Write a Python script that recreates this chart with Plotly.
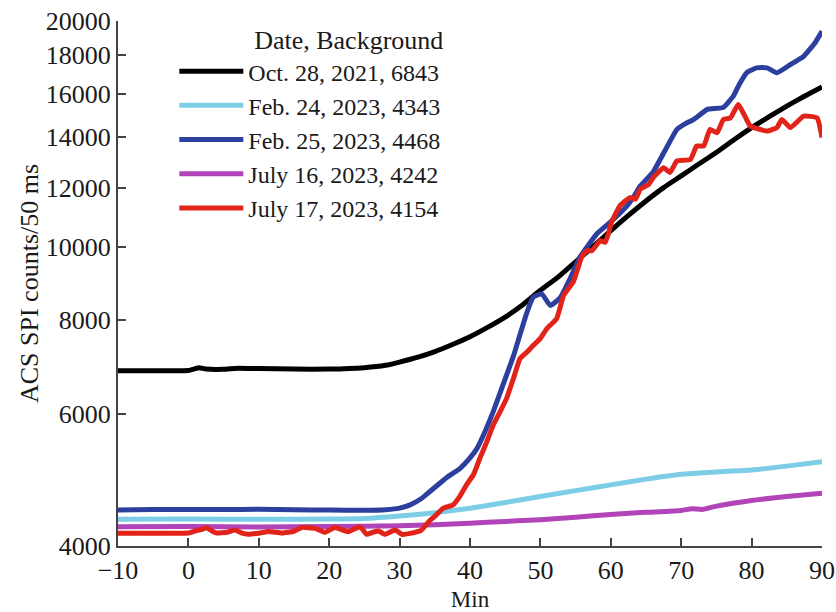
import math
import plotly.graph_objects as go

# ---------------- data ----------------
t_oct28 = [-10, -5, 0, 0.8, 1.5, 2.5, 5, 7, 10, 15, 20, 25, 28, 30, 32.5, 35, 37.5, 40, 42.5,
           45, 47.5, 50, 52.5, 55, 57.5, 60, 62.5, 65, 67.5, 70, 72.5, 75, 77.5, 80, 82.5,
           85, 87.5, 90]
v_oct28 = [6843, 6845, 6850, 6880, 6910, 6880, 6875, 6900, 6890, 6880, 6880, 6910, 6960, 7030,
           7130, 7260, 7420, 7600, 7820, 8070, 8380, 8760, 9120, 9560, 10020, 10520, 11020,
           11520, 12000, 12440, 12900, 13370, 13900, 14420, 14920, 15410, 15880, 16340]

t_feb24 = [-10, 0, 10, 20, 25, 30, 35, 40, 45, 50, 55, 60, 65, 70, 75, 80, 85, 90]
v_feb24 = [4343, 4345, 4342, 4345, 4352, 4385, 4430, 4490, 4570, 4656, 4740, 4824, 4910,
           4984, 5020, 5050, 5110, 5181]

t_feb25 = [-10, -5, 0, 5, 10, 15, 20, 25, 28, 30, 31.5, 33, 34.3, 35.5, 36.7, 38.6, 40, 41,
           42.2, 43.3, 44.8, 46.2, 47.2, 48.1, 49, 50.2, 51.4, 52.8, 54.2, 55.6, 56.6, 58,
           59.9, 62.3, 63.2, 64.2, 66, 67.8, 69.4, 70.6, 71.8, 73.7, 75, 76, 77.4, 78.3,
           79.3, 80.7, 82.2, 83.6, 85.5, 87.4, 89, 90]
v_feb25 = [4468, 4472, 4475, 4472, 4478, 4470, 4466, 4462, 4470, 4492, 4538, 4620, 4727, 4830,
           4934, 5076, 5240, 5396, 5700, 6038, 6600, 7176, 7700, 8195, 8580, 8666, 8361, 8560,
           9072, 9694, 10000, 10412, 10788, 11350, 11650, 12066, 12582, 13500, 14345, 14600,
           14793, 15252, 15300, 15346, 15885, 16500, 17062, 17325, 17325, 17062, 17500, 17950,
           18699, 19374]

t_jul16 = [-10, 0, 10, 20, 30, 35, 40, 45, 50, 55, 60, 65, 70, 71.5, 73, 75, 80, 85, 90]
v_jul16 = [4242, 4245, 4240, 4245, 4255, 4270, 4290, 4312, 4336, 4370, 4407, 4435, 4460,
           4485, 4475, 4520, 4600, 4655, 4704]

t_jul17 = [-10, -5, -1, 0, 1, 2.1, 2.6, 3.3, 4, 5.5, 6.6, 7.5, 8.5, 10, 11.4, 13.3, 15, 16.1,
           18, 19.4, 20.8, 22.7, 24.4, 25.3, 26.2, 27, 27.9, 29.4, 30.3, 31.5, 33.1, 34.3, 35,
           36.2, 37.6, 38.5, 39.5, 40.5, 41.4, 42.3, 43.3, 44.2, 45.2, 46.2, 47.1, 48.1, 49,
           50, 50.9, 52.3, 53.3, 54.7, 55.9, 56.6, 57.3, 58.5, 59.2, 59.7, 60.1, 61.3, 62.7,
           63.5, 64.2, 65.3, 66.1, 67.5, 68.4, 69.4, 71.3, 72.2, 73.2, 74.1, 75.1, 76, 77,
           78.1, 78.8, 79.8, 81.2, 82.2, 83.6, 84.3, 85.5, 87.4, 89.3, 90]
v_jul17 = [4160, 4158, 4160, 4162, 4190, 4214, 4231, 4190, 4162, 4172, 4200, 4165, 4146, 4160,
           4182, 4162, 4185, 4234, 4222, 4171, 4234, 4180, 4242, 4146, 4172, 4188, 4146, 4200,
           4146, 4158, 4200, 4326, 4380, 4492, 4538, 4650, 4824, 4980, 5234, 5480, 5795, 6020,
           6289, 6700, 7105, 7250, 7400, 7560, 7787, 8028, 8622, 9000, 9720, 9892, 9892, 10200,
           10150, 10453, 10788, 11350, 11640, 11585, 11950, 12100, 12400, 12750, 12570, 13024,
           13080, 13635, 13635, 14345, 14200, 14793, 14860, 15487, 15100, 14495, 14345, 14270,
           14424, 14793, 14424, 14943, 14860, 13989]

x_ticks = [-10, 0, 10, 20, 30, 40, 50, 60, 70, 80, 90]
y_ticks = [4000, 6000, 8000, 10000, 12000, 14000, 16000, 18000, 20000]
y_tick_text = ["4000", "6000", "8000", "10000", "12000", "14000", "16000", "18000", "20000"]

series = [
    # (name, t, v, color, legend rank) -- listed in drawing order
    ("Oct. 28, 2021, 6843", t_oct28, v_oct28, "#000000", 1),
    ("Feb. 24, 2023, 4343", t_feb24, v_feb24, "#7ecde6", 2),
    ("July 16, 2023, 4242", t_jul16, v_jul16, "#b044b8", 4),
    ("Feb. 25, 2023, 4468", t_feb25, v_feb25, "#2c3e9e", 3),
    ("July 17, 2023, 4154", t_jul17, v_jul17, "#e2231a", 5),
]

FONT = "Liberation Serif"

fig = go.Figure()
for name, t, v, color, rank in series:
    fig.add_trace(go.Scatter(
        x=t, y=v, mode="lines", name=name, legendrank=rank,
        line=dict(color=color, width=5, shape="spline", smoothing=0.4),
    ))

axis_common = dict(
    showline=True, linecolor="#444444", linewidth=2, mirror=False,
    ticks="inside", ticklen=8, tickwidth=1.5, tickcolor="#444444",
    showgrid=False, zeroline=False, automargin=False,
    tickfont=dict(family=FONT, size=26, color="#1a1a1a"),
)

fig.update_layout(
    width=836, height=612,
    margin=dict(l=118, r=14, t=21, b=66),
    paper_bgcolor="white", plot_bgcolor="white",
    font=dict(family=FONT, size=26, color="#1a1a1a"),
    xaxis=dict(
        range=[-10, 90], tickvals=x_ticks,
        title=dict(text="Min", font=dict(family=FONT, size=23), standoff=8),
        **axis_common,
    ),
    yaxis=dict(
        type="log", range=[math.log10(4000), math.log10(20000)],
        tickvals=y_ticks, ticktext=y_tick_text,
        title=dict(text="ACS SPI counts/50 ms", font=dict(family=FONT, size=26), standoff=0),
        **axis_common,
    ),
    legend=dict(
        x=0.08, y=1.011, xanchor="left", yanchor="top",
        bgcolor="rgba(0,0,0,0)", borderwidth=0,
        font=dict(family=FONT, size=24, color="#1a1a1a"),
        title=dict(text="Date, Background", side="top right",
                   font=dict(family=FONT, size=26, color="#1a1a1a")),
        itemwidth=64, tracegroupgap=0,
    ),
    showlegend=True,
)

fig.write_html("out.html")
